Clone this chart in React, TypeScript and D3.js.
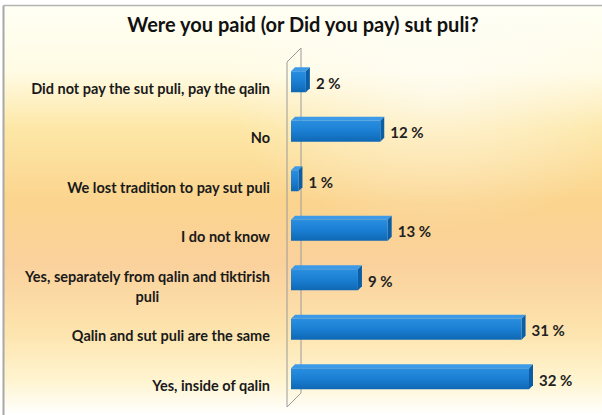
import React from "react";
import * as d3 from "d3";

const title = "Were you paid (or Did you pay) sut puli?";
const categories = [
  "Did not pay the sut puli, pay the qalin",
  "No",
  "We lost tradition to pay sut puli",
  "I do not know",
  "Yes, separately from qalin and tiktirish puli",
  "Qalin and sut puli are the same",
  "Yes, inside of qalin",
];
const labelLines: string[][] = [
  ["Did not pay the sut puli, pay the qalin"],
  ["No"],
  ["We lost tradition to pay sut puli"],
  ["I do not know"],
  ["Yes, separately from qalin and tiktirish", "puli"],
  ["Qalin and sut puli are the same"],
  ["Yes, inside of qalin"],
];
const values = [2, 12, 1, 13, 9, 31, 32];

const W = 602;
const H = 415;
const FONT = "Lato, 'Open Sans', 'Noto Sans', sans-serif";
const LABEL_SIZE = 14.5;

function measure(text: string, size: number, weight = 700): number {
  if (typeof document === "undefined") return text.length * size * 0.5;
  const c = document.createElement("canvas");
  const ctx = c.getContext("2d");
  if (!ctx) return text.length * size * 0.5;
  ctx.font = `${weight} ${size}px Lato, 'Open Sans', sans-serif`;
  return ctx.measureText(text).width;
}

export default function App() {
  const x = d3.scaleLinear().domain([0, 32]).range([291, 529]);
  const y = d3.scaleBand<string>().domain(categories).range([55, 401.5]).padding(0);
  const depth = 4;
  const barH = 21;
  const labelRight = 270;

  const wallFront = 287;
  const wallBack = 301;
  const wallTopBack = 48;
  const wallBottomBack = 393;
  const wd = wallBack - wallFront;

  return (
    <svg
      width={W}
      height={H}
      style={{ position: "absolute", left: 0, top: 0 }}
      xmlns="http://www.w3.org/2000/svg"
    >
      <defs>
        <linearGradient id="bg" x1="0" y1="0" x2="0" y2="1">
          <stop offset="0" stopColor="#fffff4" />
          <stop offset="0.16" stopColor="#fffbe4" />
          <stop offset="0.3" stopColor="#fde7a6" />
          <stop offset="0.48" stopColor="#fbd48e" />
          <stop offset="0.63" stopColor="#fad19c" />
          <stop offset="0.8" stopColor="#fde4ae" />
          <stop offset="0.92" stopColor="#fff5d2" />
          <stop offset="1" stopColor="#ffffff" />
        </linearGradient>
        <radialGradient id="hl" cx="0.72" cy="0.2" r="0.35">
          <stop offset="0" stopColor="#ffffff" stopOpacity="0.55" />
          <stop offset="1" stopColor="#ffffff" stopOpacity="0" />
        </radialGradient>
        <linearGradient id="barFront" x1="0" y1="0" x2="0" y2="1">
          <stop offset="0" stopColor="#2a8ee0" />
          <stop offset="0.5" stopColor="#1a7ed2" />
          <stop offset="1" stopColor="#0f68b4" />
        </linearGradient>
      </defs>

      <rect x={0} y={0} width={W} height={H} fill="#ffffff" />
      <rect x={4} y={6} width={W - 4} height={H - 6} fill="url(#bg)" />
      <rect x={4} y={6} width={W - 4} height={H - 6} fill="url(#hl)" />
      <line x1={3.5} y1={5.5} x2={W} y2={5.5} stroke="#b4b4b4" strokeWidth={1.5} />
      <line x1={3.5} y1={5.5} x2={3.5} y2={H} stroke="#a8a8a8" strokeWidth={2} />

      <text
        x={303}
        y={32}
        textAnchor="middle"
        fontFamily={FONT}
        fontWeight={700}
        fontSize={20}
        fill="#111"
      >
        {title}
      </text>

      {/* 3D side wall */}
      <g stroke="#9a9a9a" strokeWidth={1} fill="none">
        <line x1={wallBack} y1={wallTopBack} x2={wallBack} y2={wallBottomBack} />
        <line x1={wallFront} y1={wallTopBack + wd} x2={wallFront} y2={wallBottomBack + wd} />
        <line x1={wallFront} y1={wallTopBack + wd} x2={wallBack} y2={wallTopBack} />
        <line x1={wallFront} y1={wallBottomBack + wd} x2={wallBack} y2={wallBottomBack} />
      </g>

      {categories.map((c, i) => {
        const cy = (y(c) as number) + y.bandwidth() / 2 + 2;
        const x0 = x(0);
        const x1 = x(values[i]);
        const top = cy - barH / 2;
        const bot = cy + barH / 2;
        const lines = labelLines[i];
        const n = lines.length;
        const widths = lines.map((s) => measure(s, LABEL_SIZE));
        const maxW = d3.max(widths) as number;
        const centerX = labelRight - maxW / 2;
        return (
          <g key={c}>
            <polygon
              points={`${x0},${top} ${x0 + depth},${top - depth} ${x1 + depth},${top - depth} ${x1},${top}`}
              fill="#3d9ae6"
            />
            <polygon
              points={`${x1},${top} ${x1 + depth},${top - depth} ${x1 + depth},${bot - depth} ${x1},${bot}`}
              fill="#0b5ea6"
            />
            <rect x={x0} y={top} width={x1 - x0} height={barH} fill="url(#barFront)" />
            <text
              x={x1 + depth + 6}
              y={cy + 1}
              dominantBaseline="central"
              fontFamily={FONT}
              fontWeight={700}
              fontSize={15}
              fill="#222"
            >
              {`${values[i]} %`}
            </text>
            {lines.map((ln, j) => {
              const ly = cy + 6.5 + (j - (n - 1) / 2) * 19.5;
              const anchorMid = n > 1 && widths[j] < maxW;
              return (
                <text
                  key={j}
                  x={anchorMid ? centerX : labelRight}
                  y={ly}
                  textAnchor={anchorMid ? "middle" : "end"}
                  dominantBaseline="central"
                  fontFamily={FONT}
                  fontWeight={700}
                  fontSize={LABEL_SIZE}
                  fill="#1a1a1a"
                >
                  {ln}
                </text>
              );
            })}
          </g>
        );
      })}
    </svg>
  );
}
